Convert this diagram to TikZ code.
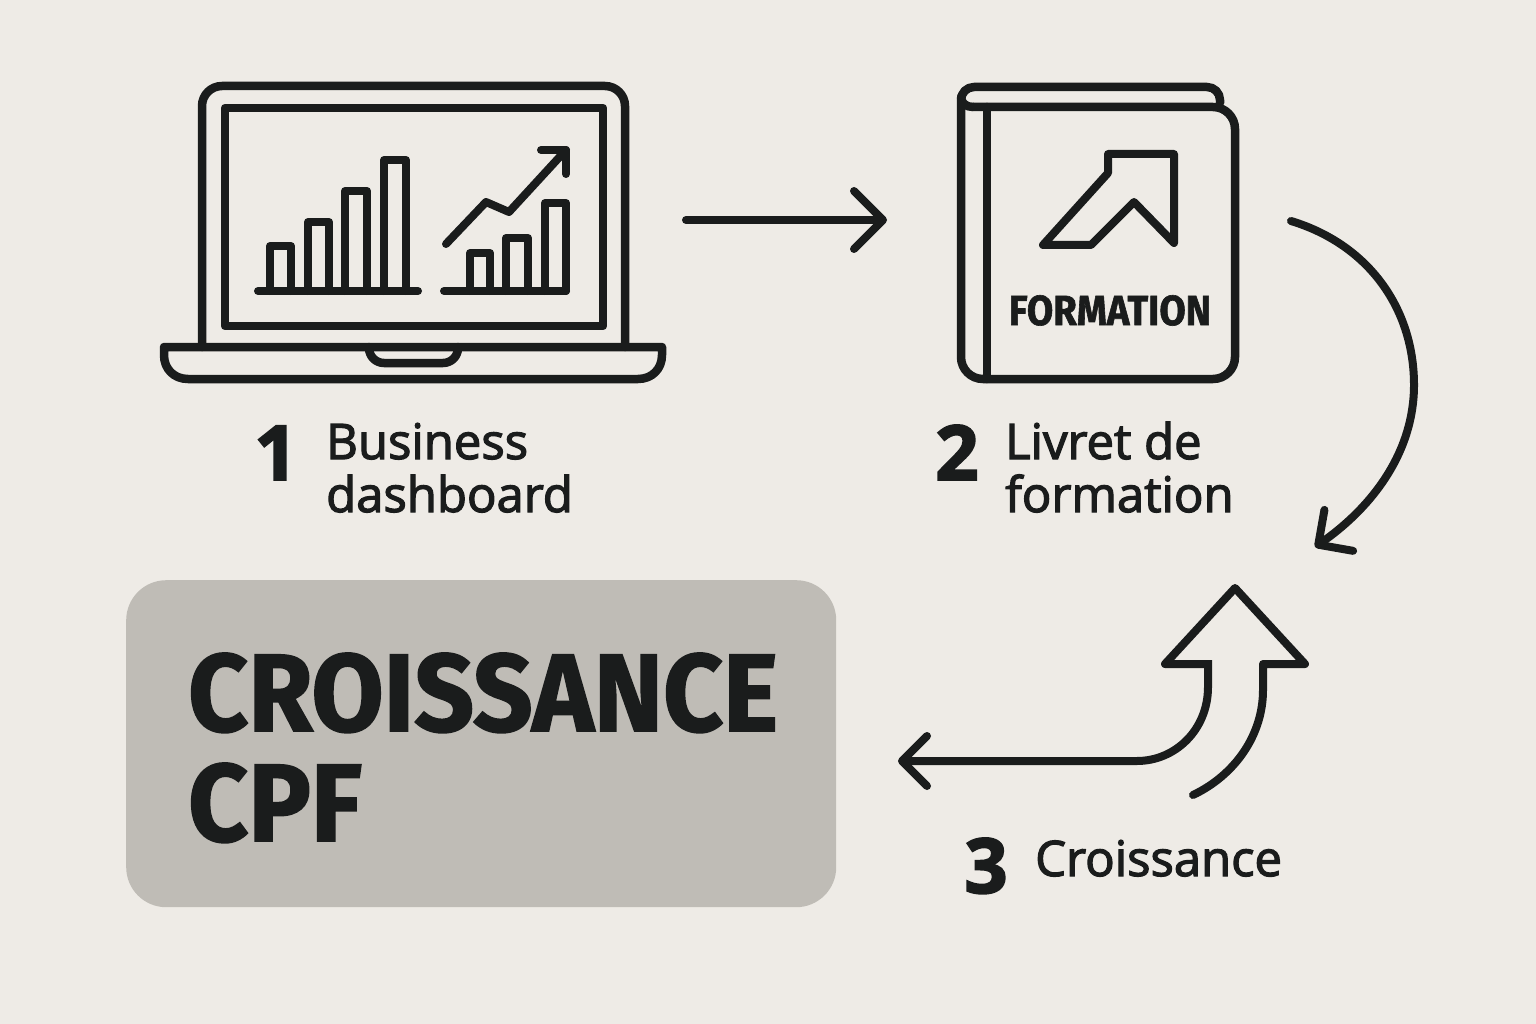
\documentclass[tikz,border=0pt]{standalone}
\usepackage{fontspec}
\setmainfont{Open Sans}[FakeBold=2.5]
\newfontfamily\headfont{Fira Sans}[BoldFeatures={FakeBold=1.5}]
\usetikzlibrary{arrows.meta}
\definecolor{paper}{HTML}{EEEBE6}
\definecolor{ink}{HTML}{1A1C1C}
\definecolor{panel}{HTML}{BFBCB6}
\tikzset{
    icon/.style={draw=ink, line width=8.5pt, line join=round, line cap=round},
    thinicon/.style={draw=ink, line width=8pt, line join=round, line cap=round},
    flow/.style={draw=ink, line width=8pt, line cap=round, -{Straight Barb[round,length=29pt,width=58pt]}},
    flowsmall/.style={flow, -{Straight Barb[round,length=25pt,width=50pt]}},
    numlabel/.style={text=ink, anchor=base, font=\fontsize{76}{76}\selectfont\bfseries},
    steplabel/.style={text=ink, anchor=base west, align=left, inner sep=0pt, font=\fontsize{49}{53}\selectfont},
}
\begin{document}
\begin{tikzpicture}[x=1pt,y=-1pt]
    \useasboundingbox (0,0) rectangle (1536,1024);
    \fill[paper] (0,0) rectangle (1536,1024);

    % laptop
    \draw[icon] (202,347) [rounded corners=20pt] -- (202,86) -- (625,86) -- (625,347);
    \draw[icon] (225,108) rectangle (603,326);
    \draw[icon] (164,347) -- (662,347) -- (662,355) .. controls (662,369) and (652,379) .. (638,379) -- (188,379) .. controls (174,379) and (164,369) .. (164,355) -- cycle;
    \draw[icon] (369,347) [rounded corners=15pt] -- (369,363) -- (458,363) -- (458,347);

    % left chart
    \draw[thinicon] (258,291) -- (418,291);
    \foreach \xa/\xb/\ytop in {270/291/246, 308/329/222, 345/367/191, 384/406/160} {
        \draw[thinicon] (\xa,291) -- (\xa,\ytop) -- (\xb,\ytop) -- (\xb,291);
    }

    % right chart
    \draw[thinicon] (444,291) -- (566,291);
    \foreach \xa/\xb/\ytop in {470/490/253, 506/528/238, 545/566/203} {
        \draw[thinicon] (\xa,291) -- (\xa,\ytop) -- (\xb,\ytop) -- (\xb,291);
    }
    \draw[thinicon] (446,244) -- (486,202) -- (509,212) -- (566,150);
    \draw[thinicon] (541,150) -- (566,150) -- (566,174);

    % book
    \draw[icon] (973,107) [rounded corners=22pt] -- (1235,107) -- (1235,379) -- (961,379) -- (961,200) [rounded corners=13pt] -- (961,87) -- (1220,87) -- (1220,103);
    \draw[icon] (973,107) .. controls (966,107) and (961,103) .. (961,97);
    \draw[icon] (987,107) -- (987,379);
    \draw[thinicon] (1108,154) -- (1174,154) -- (1174,243) -- (1134,202) -- (1091,245) -- (1043,245) -- (1108,173) -- cycle;
    \node[text=ink, anchor=base, inner sep=0pt, xscale=.91, font=\headfont\fontsize{42}{42}\selectfont\bfseries] (formation) at (1110,325) {FORMATION};

    % labels
    \node[numlabel] (num1) at (276,480) {1};
    \node[steplabel] (label1) at (326,512) {Business\\dashboard};
    \node[numlabel] (num2) at (957,480) {2};
    \node[steplabel] (label2) at (1005,512) {Livret de\\formation};
    \node[numlabel] (num3) at (986,893) {3};
    \node[steplabel] (label3) at (1035,876) {Croissance};

    % panel
    \node[fill=panel, rounded corners=40pt, minimum width=710pt, minimum height=327pt, anchor=north west] (panelbox) at (126,580) {};
    \node[text=ink, anchor=base west, inner sep=0pt, align=left, xscale=.95, font=\headfont\fontsize{110}{110}\selectfont\bfseries] (paneltext) at (188,841) {CROISSANCE\\CPF};

    % arrows
    \coordinate (arrow1a) at (686,220);
    \coordinate (arrow1b) at (887,220);
    \draw[flow] (arrow1a) -- (arrow1b);

    \coordinate (arrow2a) at (1291,221);
    \coordinate (arrow2b) at (1315,547);
    \draw[flowsmall] (arrow2a) .. controls (1370,245) and (1414,310) .. (1414,385) .. controls (1414,450) and (1375,505) .. (arrow2b);

    \coordinate (growtip) at (1235,588);
    \coordinate (growbase) at (1165,664);
    \coordinate (growleft) at (898,761);
    \coordinate (growright) at (1193,795);
    \draw[flowsmall] (growbase) -- (1208,664) -- (1208,687) .. controls (1208,730) and (1175,761) .. (1137,761) -- (growleft);
    \draw[thinicon] (growbase) -- (growtip) -- (1305,664) -- (1263,664) -- (1263,690) .. controls (1263,735) and (1235,775) .. (growright);
\end{tikzpicture}
\end{document}
